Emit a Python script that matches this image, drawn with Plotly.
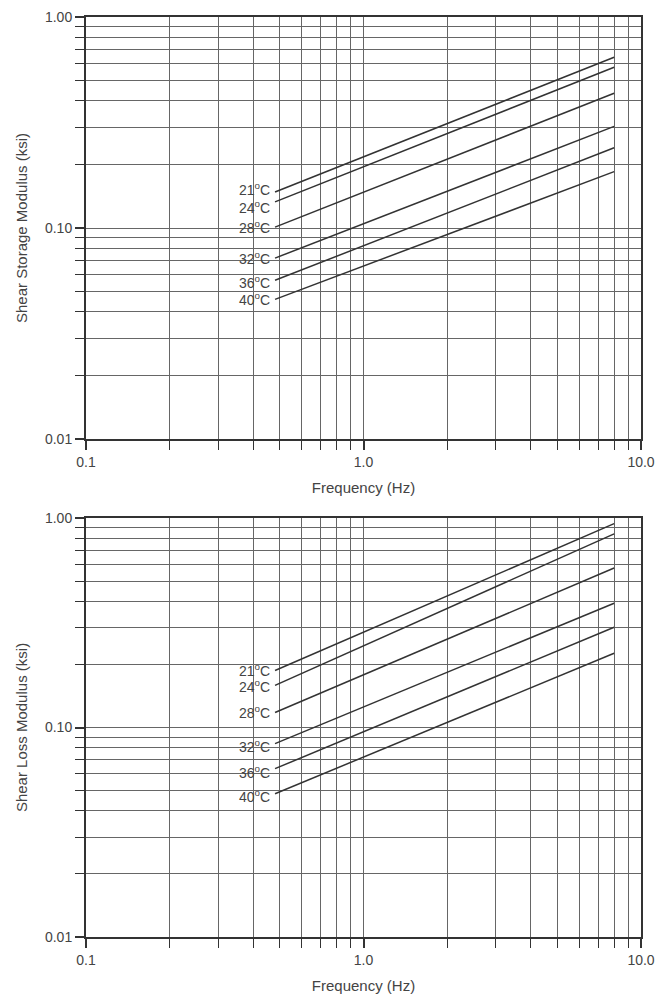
import math
import plotly.graph_objects as go
from plotly.subplots import make_subplots

# ---- data ----
temps = ["21", "24", "28", "32", "36", "40"]
freq = [0.48, 8.0]  # Hz, start and end of each line

storage_21 = [0.148, 0.645]
storage_24 = [0.133, 0.578]
storage_28 = [0.101, 0.435]
storage_32 = [0.072, 0.303]
storage_36 = [0.0565, 0.240]
storage_40 = [0.0459, 0.185]

loss_21 = [0.187, 0.94]
loss_24 = [0.159, 0.84]
loss_28 = [0.118, 0.577]
loss_32 = [0.0838, 0.392]
loss_36 = [0.0636, 0.301]
loss_40 = [0.0483, 0.226]

storage = [storage_21, storage_24, storage_28, storage_32, storage_36, storage_40]
loss = [loss_21, loss_24, loss_28, loss_32, loss_36, loss_40]

x_tickvals = [0.1, 1, 10]
x_ticktext = ["0.1", "1.0", "10.0"]
y_tickvals = [0.01, 0.1, 1]
y_ticktext = ["0.01", "0.10", "1.00"]
x_minor = [0.2, 0.3, 0.4, 0.5, 0.6, 0.7, 0.8, 0.9, 2, 3, 4, 5, 6, 7, 8, 9]
y_minor = [0.02, 0.03, 0.04, 0.05, 0.06, 0.07, 0.08, 0.09,
           0.2, 0.3, 0.4, 0.5, 0.6, 0.7, 0.8, 0.9]

# small vertical nudges of the temperature labels (pixels)
label_shift_top = [3, -5, 0, 0, -2, 0]
label_shift_bot = [1, -1, 0, -2, -3, -2]

FONT = "Liberation Sans, Arial, sans-serif"
INK = "#333333"
GRID = "#666666"
TXT = "#444444"

W, H = 659, 999
mt, mb = 17, 62
ph = H - mt - mb
top_dom = [(937 - 439) / ph, 1.0]
bot_dom = [0.0, (937 - 518) / ph]

fig = make_subplots(rows=2, cols=1)

for row, series, title, shifts in [(1, storage, "Shear Storage Modulus (ksi)", label_shift_top),
                                   (2, loss, "Shear Loss Modulus (ksi)", label_shift_bot)]:
    for t, vals, s in zip(temps, series, shifts):
        fig.add_trace(go.Scatter(x=freq, y=vals, mode="lines",
                                 line=dict(color=INK, width=1.5),
                                 showlegend=False, hoverinfo="skip"),
                      row=row, col=1)
        fig.add_annotation(x=math.log10(freq[0]), y=math.log10(vals[0]),
                           text=f"{t}<sup>o</sup>C", showarrow=False,
                           xanchor="right", yanchor="middle", xshift=-3, yshift=s,
                           font=dict(family=FONT, size=14, color=TXT),
                           xref=f"x{'' if row == 1 else row}",
                           yref=f"y{'' if row == 1 else row}")
    fig.update_xaxes(type="log", range=[-1, 1], tickvals=x_tickvals, ticktext=x_ticktext,
                     ticks="outside", ticklen=9, tickwidth=1.5, tickcolor=INK,
                     showgrid=True, gridcolor=GRID, gridwidth=1.2,
                     minor=dict(tickvals=x_minor, ticks="outside", ticklen=9, tickwidth=1.2,
                                tickcolor=INK, showgrid=True, gridcolor=GRID, gridwidth=1.2),
                     showline=True, linecolor=INK, linewidth=2, mirror=True,
                     tickfont=dict(family=FONT, size=14, color=TXT),
                     title=dict(text="Frequency (Hz)", standoff=14,
                                font=dict(family=FONT, size=15, color=TXT)),
                     zeroline=False, row=row, col=1)
    fig.update_yaxes(type="log", range=[-2, 0], tickvals=y_tickvals, ticktext=y_ticktext,
                     ticks="outside", ticklen=9, tickwidth=1.5, tickcolor=INK,
                     showgrid=True, gridcolor=GRID, gridwidth=1.2,
                     minor=dict(tickvals=y_minor, ticks="outside", ticklen=9, tickwidth=1.2,
                                tickcolor=INK, showgrid=True, gridcolor=GRID, gridwidth=1.2),
                     showline=True, linecolor=INK, linewidth=2, mirror=True,
                     tickfont=dict(family=FONT, size=14, color=TXT),
                     title=dict(text=title, standoff=14,
                                font=dict(family=FONT, size=15, color=TXT)),
                     zeroline=False, row=row, col=1)

fig.update_layout(
    width=W, height=H,
    margin=dict(l=86, r=18, t=mt, b=mb, autoexpand=False),
    plot_bgcolor="white", paper_bgcolor="white",
    xaxis=dict(domain=[0, 1]), xaxis2=dict(domain=[0, 1]),
    yaxis=dict(domain=top_dom), yaxis2=dict(domain=bot_dom),
)

fig.write_html("out.html", config={"displayModeBar": False},
               post_script="document.body.style.margin='0';document.body.style.overflow='hidden';")
